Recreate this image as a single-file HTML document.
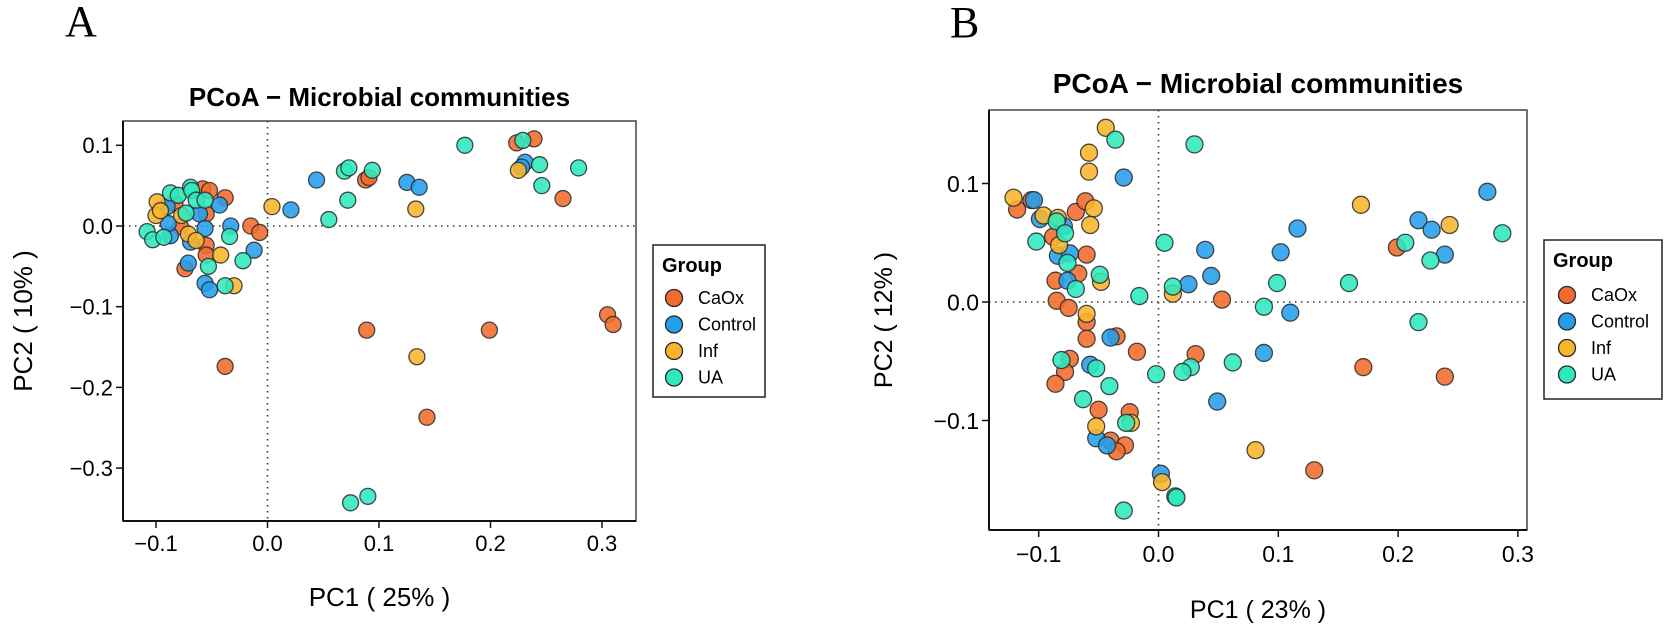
<!DOCTYPE html>
<html><head><meta charset="utf-8"><style>
html,body{margin:0;padding:0;background:#fff;}
svg{display:block;font-family:"Liberation Sans",Arial,sans-serif;}
</style></head><body>
<svg id="fig" width="1667" height="630" viewBox="0 0 1667 630" xmlns="http://www.w3.org/2000/svg">
<text x="65" y="36" font-family="Liberation Serif,serif" font-size="44">A</text>
<text x="950" y="37" font-family="Liberation Serif,serif" font-size="44">B</text>
</svg>
<script>
// ---- Panel A data ----
const groups = ["CaOx","Control","Inf","UA"];
const colors = ["#F26B2C","#249EEA","#F9B52B","#2EE8BE"];
const aCaOxX = [0.2235,0.239,0.265,0.305,0.31,0.088,0.091,0.089,0.199,0.143,-0.038,-0.078,-0.058,-0.052,-0.038,-0.055,-0.055,-0.055,-0.074,-0.015,-0.007,-0.083];
const aCaOxY = [0.103,0.108,0.034,-0.11,-0.122,0.057,0.060,-0.129,-0.129,-0.237,-0.174,-0.001,0.046,0.044,0.035,0.015,-0.024,-0.036,-0.053,0.000,-0.008,0.028];
const aControlX = [0.231,0.228,0.044,0.021,0.125,0.136,-0.087,-0.089,-0.090,-0.043,-0.061,-0.056,-0.069,-0.071,-0.056,-0.052,-0.012,-0.033];
const aControlY = [0.079,0.073,0.057,0.020,0.054,0.048,-0.012,0.003,0.024,0.026,0.015,-0.003,-0.020,-0.046,-0.071,-0.079,-0.030,0.000];
const aInfX = [0.225,0.004,0.133,0.134,-0.099,-0.100,-0.077,-0.071,-0.064,-0.042,-0.030,-0.096];
const aInfY = [0.069,0.024,0.021,-0.162,0.030,0.013,0.013,-0.010,-0.018,-0.036,-0.074,0.019];
const aUAX = [0.177,0.229,0.244,0.246,0.279,0.069,0.073,0.094,0.072,0.055,0.0745,0.090,-0.108,-0.103,-0.093,-0.087,-0.080,-0.073,-0.069,-0.068,-0.064,-0.056,-0.053,-0.038,-0.022,-0.034];
const aUAY = [0.100,0.106,0.076,0.050,0.072,0.068,0.072,0.069,0.032,0.008,-0.343,-0.335,-0.007,-0.017,-0.014,0.041,0.038,0.016,0.048,0.044,0.032,0.032,-0.050,-0.074,-0.043,-0.013];
const aXTicks = [-0.1,0.0,0.1,0.2,0.3];
const aYTicks = [0.1,0.0,-0.1,-0.2,-0.3];
const aXTickLabels = ["\u22120.1","0.0","0.1","0.2","0.3"];
const aYTickLabels = ["0.1","0.0","\u22120.1","\u22120.2","\u22120.3"];
// ---- Panel B data ----
const bCaOxX = [-0.118,-0.106,-0.088,-0.069,-0.061,-0.060,-0.067,-0.086,-0.085,-0.075,-0.060,-0.060,-0.035,-0.018,-0.074,-0.078,-0.086,-0.050,-0.024,-0.040,-0.028,-0.035,0.031,0.053,0.130,0.171,0.199,0.239];
const bCaOxY = [0.078,0.086,0.055,0.076,0.085,0.040,0.024,0.018,0.001,-0.005,-0.017,-0.031,-0.029,-0.042,-0.048,-0.059,-0.069,-0.091,-0.093,-0.117,-0.121,-0.126,-0.044,0.002,-0.142,-0.055,0.046,-0.063];
const bControlX = [-0.029,-0.104,-0.099,-0.079,-0.084,-0.074,-0.076,-0.040,-0.057,-0.052,-0.043,0.025,0.039,0.044,0.049,0.088,0.102,0.116,0.110,0.002,0.217,0.228,0.2745,0.239];
const bControlY = [0.105,0.086,0.070,0.064,0.039,0.041,0.018,-0.030,-0.053,-0.115,-0.121,0.015,0.044,0.022,-0.084,-0.043,0.042,0.062,-0.009,-0.145,0.069,0.061,0.093,0.040];
const bInfX = [-0.044,-0.058,-0.058,-0.121,-0.096,-0.084,-0.083,-0.054,-0.057,-0.048,-0.060,-0.023,-0.052,0.012,0.081,0.003,0.169,0.243];
const bInfY = [0.147,0.126,0.110,0.088,0.073,0.071,0.048,0.079,0.065,0.017,-0.010,-0.102,-0.105,0.007,-0.125,-0.152,0.082,0.065];
const bUAX = [-0.036,0.030,-0.102,-0.085,-0.078,-0.076,-0.069,-0.049,-0.016,-0.081,-0.052,-0.041,-0.063,-0.027,-0.002,0.005,0.012,0.027,0.020,0.062,0.088,0.099,0.014,0.159,0.206,0.217,0.227,0.287,-0.029,0.015];
const bUAY = [0.137,0.133,0.051,0.068,0.058,0.033,0.011,0.023,0.005,-0.049,-0.056,-0.071,-0.082,-0.102,-0.061,0.050,0.013,-0.055,-0.059,-0.051,-0.004,0.016,-0.164,0.016,0.050,-0.017,0.035,0.058,-0.176,-0.165];
const bXTicks = [-0.1,0.0,0.1,0.2,0.3];
const bYTicks = [0.1,0.0,-0.1];
const bXTickLabels = ["\u22120.1","0.0","0.1","0.2","0.3"];
const bYTickLabels = ["0.1","0.0","\u22120.1"];

const NS="http://www.w3.org/2000/svg";
const svg=document.getElementById('fig');
function mk(tag,attrs,parent){const e=document.createElementNS(NS,tag);for(const k in attrs)e.setAttribute(k,attrs[k]);(parent||svg).appendChild(e);return e;}

function panel(cfg){
  const g=mk('g',{});
  
  
  const sx=v=>cfg.x0+v*cfg.kx, sy=v=>cfg.y0-v*cfg.ky;
  const t=mk('text',{x:(cfg.L+cfg.R)/2,y:cfg.titleY,'text-anchor':'middle','font-weight':'bold','font-size':cfg.titleSize},g);
  t.textContent="PCoA \u2212 Microbial communities";
  
  
  const h=mk('line',{x1:cfg.L,x2:cfg.R,y1:sy(0),y2:sy(0),stroke:'#333','stroke-width':1.6,'stroke-dasharray':'1.5 4.5'},g);
  
  
  const v=mk('line',{x1:sx(0),x2:sx(0),y1:cfg.T,y2:cfg.B,stroke:'#333','stroke-width':1.6,'stroke-dasharray':'1.5 4.5'},g);
  
  
  for(let gi=0;gi<4;gi++){
    const xs=cfg.data[gi][0], ys=cfg.data[gi][1];
    for(let i=0;i<xs.length;i++){
      const c=mk('circle',{cx:sx(xs[i]),cy:sy(ys[i]),r:cfg.r,fill:colors[gi],'fill-opacity':0.88,stroke:'#2a2a2a','stroke-opacity':0.85,'stroke-width':1.3},g);
      
      
    }
  }
  const bx=mk('rect',{x:cfg.L,y:cfg.T,width:cfg.R-cfg.L,height:cfg.B-cfg.T,fill:'none',stroke:'#444','stroke-width':1.5},g);
  
  
  mk('line',{x1:cfg.L,x2:cfg.L,y1:cfg.T,y2:cfg.B,stroke:'#111','stroke-width':2},g);
  mk('line',{x1:cfg.L,x2:cfg.R,y1:cfg.B,y2:cfg.B,stroke:'#111','stroke-width':2},g);
  cfg.xt.forEach((tv,i)=>{
    mk('line',{x1:sx(tv),x2:sx(tv),y1:cfg.B,y2:cfg.B+7,stroke:'#111','stroke-width':1.5},g);
    const tl=mk('text',{x:sx(tv),y:cfg.xTickY,'text-anchor':'middle','font-size':cfg.tickFont},g);
    tl.textContent=cfg.xtl[i];
    
    
  });
  cfg.yt.forEach((tv,i)=>{
    mk('line',{x1:cfg.L-7,x2:cfg.L,y1:sy(tv),y2:sy(tv),stroke:'#111','stroke-width':1.5},g);
    const tl=mk('text',{x:cfg.L-10,y:sy(tv)+cfg.tickFont*0.36,'text-anchor':'end','font-size':cfg.tickFont},g);
    tl.textContent=cfg.ytl[i];
    
    
  });
  const xl=mk('text',{x:(cfg.L+cfg.R)/2,y:cfg.xlabY,'text-anchor':'middle','font-size':cfg.labFont},g);
  xl.textContent=cfg.xlab;
  
  
  const yc=(cfg.T+cfg.B)/2;
  const yl=mk('text',{x:cfg.ylabX,y:yc,'text-anchor':'middle','font-size':cfg.labFont,transform:'rotate(-90 '+cfg.ylabX+' '+yc+')'},g);
  yl.textContent=cfg.ylab;
  
  
  const lg=mk('g',{},g);
  
  
  const Lg=cfg.leg;
  mk('rect',{x:Lg.x,y:Lg.y,width:Lg.w,height:Lg.h,fill:'#fff',stroke:'#222','stroke-width':1.5},lg);
  const lt=mk('text',{x:Lg.x+9,y:Lg.ty,'font-weight':'bold','font-size':20},lg);
  lt.textContent="Group";
  
  
  groups.forEach((gname,i)=>{
    const cy=Lg.cy0+i*26.5;
    const lc=mk('circle',{cx:Lg.cx,cy:cy,r:8.5,fill:colors[i],stroke:'#2a2a2a','stroke-width':1.3},lg);
    
    
    const le=mk('text',{x:Lg.cx+24,y:cy+6,'font-size':18},lg);
    le.textContent=gname;
    
    
  });
}

panel({id:'a',L:123,R:636,T:121,B:521,x0:267.5,kx:1115,y0:226,ky:807,r:8,
  data:[[aCaOxX,aCaOxY],[aControlX,aControlY],[aInfX,aInfY],[aUAX,aUAY]],
  xt:aXTicks,yt:aYTicks,xtl:aXTickLabels,ytl:aYTickLabels,tickFont:22,labFont:26,xTickY:551,
  titleY:106,titleSize:26,xlab:"PC1 ( 25% )",ylab:"PC2 ( 10% )",xlabY:606,ylabX:32,
  leg:{x:653,y:245,w:112,h:152,ty:272,cx:674,cy0:298}});
panel({id:'b',L:989,R:1527,T:110,B:530,x0:1158.5,kx:1198,y0:302,ky:1185,r:8.5,
  data:[[bCaOxX,bCaOxY],[bControlX,bControlY],[bInfX,bInfY],[bUAX,bUAY]],
  xt:bXTicks,yt:bYTicks,xtl:bXTickLabels,ytl:bYTickLabels,tickFont:23,labFont:25,xTickY:562,
  titleY:93,titleSize:28,xlab:"PC1 ( 23% )",ylab:"PC2 ( 12% )",xlabY:618,ylabX:892,
  leg:{x:1544,y:240,w:118,h:159,ty:267,cx:1567,cy0:295}});
</script>
</body></html>
